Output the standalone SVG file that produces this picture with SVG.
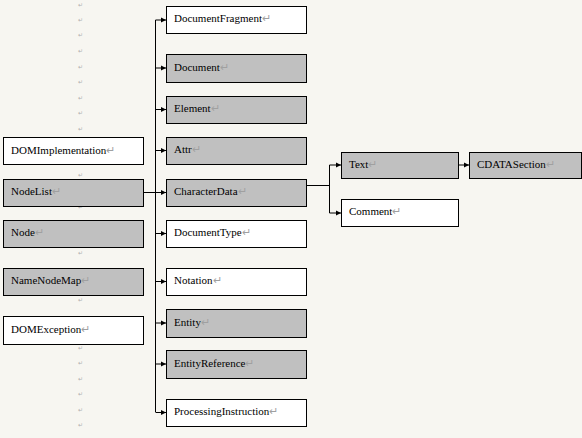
<svg xmlns="http://www.w3.org/2000/svg" width="582" height="438" viewBox="0 0 582 438">
<style>
.bg{fill:#f7f6f1}
.w{fill:#ffffff;stroke:#000;stroke-width:1}
.g{fill:#c0c0c0;stroke:#000;stroke-width:1}
.t{font-family:'Liberation Serif','Times New Roman',serif;font-size:11px;fill:#000}
.pm{fill:#a0a0a0}
.mk{font-family:'DejaVu Sans',sans-serif;font-size:6px;fill:#b0b0b0}
.c{stroke:#000;stroke-width:1;fill:none}
</style>
<defs>
<marker id="ah" markerWidth="6" markerHeight="6" refX="5" refY="3" orient="auto" markerUnits="userSpaceOnUse">
<path d="M0,0.5 L5,3 L0,5.5 Z" fill="#000"/>
</marker>
</defs>
<rect class="bg" x="0" y="0" width="582" height="438"/>
<g id="marks" class="mk">
<text x="78" y="7">↵</text><text x="78" y="22">↵</text><text x="78" y="37">↵</text><text x="78" y="53">↵</text><text x="78" y="69">↵</text><text x="78" y="84">↵</text><text x="78" y="100">↵</text><text x="78" y="115">↵</text><text x="78" y="131">↵</text>
<text x="78" y="177">↵</text><text x="78" y="209">↵</text><text x="78" y="255">↵</text><text x="78" y="302">↵</text><text x="78" y="350">↵</text><text x="78" y="365">↵</text><text x="78" y="381">↵</text><text x="78" y="396">↵</text><text x="78" y="412">↵</text><text x="78" y="427">↵</text>
</g>
<g id="connectors">
<path class="c" d="M155.5,20 V412"/>
<path class="c" d="M155.5,20 H166" marker-end="url(#ah)"/>
<path class="c" d="M155.5,68 H166" marker-end="url(#ah)"/>
<path class="c" d="M155.5,109.5 H166" marker-end="url(#ah)"/>
<path class="c" d="M155.5,150.5 H166" marker-end="url(#ah)"/>
<path class="c" d="M143,192.5 H166" marker-end="url(#ah)"/>
<path class="c" d="M155.5,233.5 H166" marker-end="url(#ah)"/>
<path class="c" d="M155.5,281.5 H166" marker-end="url(#ah)"/>
<path class="c" d="M155.5,323 H166" marker-end="url(#ah)"/>
<path class="c" d="M155.5,364 H166" marker-end="url(#ah)"/>
<path class="c" d="M155.5,412.5 H166" marker-end="url(#ah)"/>
<path class="c" d="M307,185.5 H329.5"/>
<path class="c" d="M329.5,165 V213"/>
<path class="c" d="M329.5,165 H341" marker-end="url(#ah)"/>
<path class="c" d="M329.5,213 H341" marker-end="url(#ah)"/>
<path class="c" d="M458,165 H469" marker-end="url(#ah)"/>
</g>
<g id="DOMImplementation"><rect class="w" x="3.5" y="137.5" width="140" height="27"/><text class="t" x="11" y="153.5">DOMImplementation<tspan class="pm">↵</tspan></text></g>
<g id="NodeList"><rect class="g" x="3.5" y="179.5" width="140" height="27"/><text class="t" x="11" y="195">NodeList<tspan class="pm">↵</tspan></text></g>
<g id="Node"><rect class="g" x="3.5" y="220.5" width="140" height="27"/><text class="t" x="11" y="236">Node<tspan class="pm">↵</tspan></text></g>
<g id="NameNodeMap"><rect class="g" x="3.5" y="268.5" width="140" height="27"/><text class="t" x="11" y="284">NameNodeMap<tspan class="pm">↵</tspan></text></g>
<g id="DOMException"><rect class="w" x="3.5" y="316.5" width="140" height="28"/><text class="t" x="11" y="332.5">DOMException<tspan class="pm">↵</tspan></text></g>
<g id="DocumentFragment"><rect class="w" x="166.5" y="6.5" width="140" height="27"/><text class="t" x="174" y="22">DocumentFragment<tspan class="pm">↵</tspan></text></g>
<g id="Document"><rect class="g" x="166.5" y="54.5" width="140" height="28"/><text class="t" x="174" y="70.5">Document<tspan class="pm">↵</tspan></text></g>
<g id="Element"><rect class="g" x="166.5" y="96.5" width="140" height="27"/><text class="t" x="174" y="112">Element<tspan class="pm">↵</tspan></text></g>
<g id="Attr"><rect class="g" x="166.5" y="137.5" width="140" height="27"/><text class="t" x="174" y="153">Attr<tspan class="pm">↵</tspan></text></g>
<g id="CharacterData"><rect class="g" x="166.5" y="179.5" width="140" height="27"/><text class="t" x="174" y="195">CharacterData<tspan class="pm">↵</tspan></text></g>
<g id="DocumentType"><rect class="w" x="166.5" y="220.5" width="140" height="27"/><text class="t" x="174" y="236">DocumentType<tspan class="pm">↵</tspan></text></g>
<g id="Notation"><rect class="w" x="166.5" y="268.5" width="140" height="27"/><text class="t" x="174" y="284">Notation<tspan class="pm">↵</tspan></text></g>
<g id="Entity"><rect class="g" x="166.5" y="309.5" width="140" height="28"/><text class="t" x="174" y="325.5">Entity<tspan class="pm">↵</tspan></text></g>
<g id="EntityReference"><rect class="g" x="166.5" y="350.5" width="140" height="28"/><text class="t" x="174" y="366.5">EntityReference<tspan class="pm">↵</tspan></text></g>
<g id="ProcessingInstruction"><rect class="w" x="166.5" y="399.5" width="140" height="27"/><text class="t" x="174" y="415">ProcessingInstruction<tspan class="pm">↵</tspan></text></g>
<g id="Text"><rect class="g" x="341.5" y="152.5" width="117" height="26"/><text class="t" x="349" y="167.5">Text<tspan class="pm">↵</tspan></text></g>
<g id="CDATASection"><rect class="g" x="469.5" y="152.5" width="112" height="26"/><text class="t" x="477" y="167.5">CDATASection<tspan class="pm">↵</tspan></text></g>
<g id="Comment"><rect class="w" x="341.5" y="199.5" width="117" height="27"/><text class="t" x="349" y="215">Comment<tspan class="pm">↵</tspan></text></g>
</svg>
